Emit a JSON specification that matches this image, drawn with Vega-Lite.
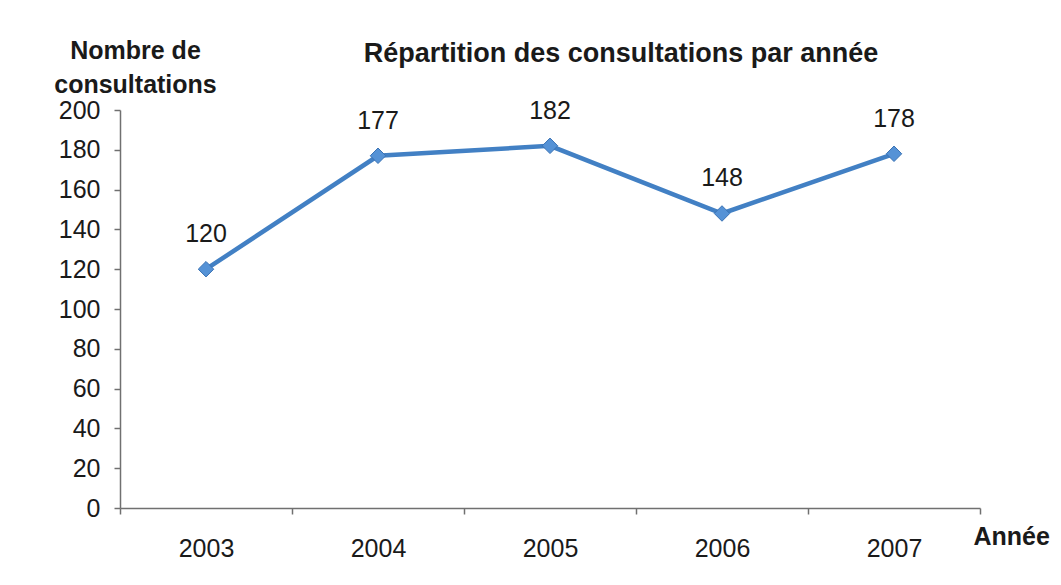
{
  "$schema": "https://vega.github.io/schema/vega-lite/v6.json",
  "width": 860,
  "height": 398,
  "autosize": "none",
  "padding": {"left": 120, "top": 110, "right": 81, "bottom": 77},
  "background": "white",
  "title": {
    "text": "Répartition des consultations par année",
    "anchor": "middle",
    "frame": "group",
    "dx": 71,
    "dy": 40,
    "offset": 10,
    "fontSize": 27,
    "fontWeight": "bold",
    "font": "Liberation Sans",
    "color": "#1a1a1a"
  },
  "config": {
    "view": {"stroke": null},
    "font": "Liberation Sans"
  },
  "data": {
    "values": [
      {"annee": "2003", "consultations": 120},
      {"annee": "2004", "consultations": 177},
      {"annee": "2005", "consultations": 182},
      {"annee": "2006", "consultations": 148},
      {"annee": "2007", "consultations": 178}
    ]
  },
  "encoding": {
    "x": {
      "field": "annee",
      "type": "nominal",
      "bandPosition": 0.5,
      "scale": {"type": "band", "paddingInner": 0, "paddingOuter": 0},
      "axis": {
        "title": "Année",
        "titleFont": "Liberation Sans",
        "titleFontSize": 25,
        "titleFontWeight": "bold",
        "titleColor": "#1a1a1a",
        "titleAlign": "left",
        "titleBaseline": "alphabetic",
        "titleAnchor": "start",
        "titleX": 853,
        "titleY": 36,
        "labelAngle": 0,
        "labelFontSize": 25,
        "labelColor": "#1a1a1a",
        "labelPadding": 22,
        "tickBand": "extent",
        "tickSize": 6,
        "tickColor": "#707070",
        "domainColor": "#707070",
        "domainWidth": 1.5,
        "tickWidth": 1.5,
        "grid": false
      }
    },
    "y": {
      "field": "consultations",
      "type": "quantitative",
      "scale": {"domain": [0, 200], "nice": false},
      "axis": {
        "title": ["Nombre de", "consultations"],
        "titleFont": "Liberation Sans",
        "titleFontSize": 25,
        "titleFontWeight": "bold",
        "titleColor": "#1a1a1a",
        "titleAngle": 0,
        "titleAlign": "center",
        "titleBaseline": "top",
        "titleX": 15,
        "titleY": -72,
        "titleLineHeight": 34,
        "values": [0, 20, 40, 60, 80, 100, 120, 140, 160, 180, 200],
        "labelFontSize": 25,
        "labelColor": "#1a1a1a",
        "labelPadding": 14,
        "tickSize": 6,
        "tickColor": "#707070",
        "domainColor": "#707070",
        "domainWidth": 1.5,
        "tickWidth": 1.5,
        "grid": false
      }
    }
  },
  "layer": [
    {
      "mark": {"type": "line", "color": "#4280c4", "strokeWidth": 4.5},
      "encoding": {}
    },
    {
      "mark": {"type": "point", "shape": "diamond", "size": 240, "filled": true, "fill": "#5592d6", "stroke": "#3a72b4", "strokeWidth": 1, "opacity": 1},
      "encoding": {}
    },
    {
      "mark": {"type": "text", "dy": -27, "baseline": "alphabetic", "fontSize": 25, "color": "#1a1a1a", "font": "Liberation Sans"},
      "encoding": {"text": {"field": "consultations", "type": "quantitative"}}
    }
  ]
}
